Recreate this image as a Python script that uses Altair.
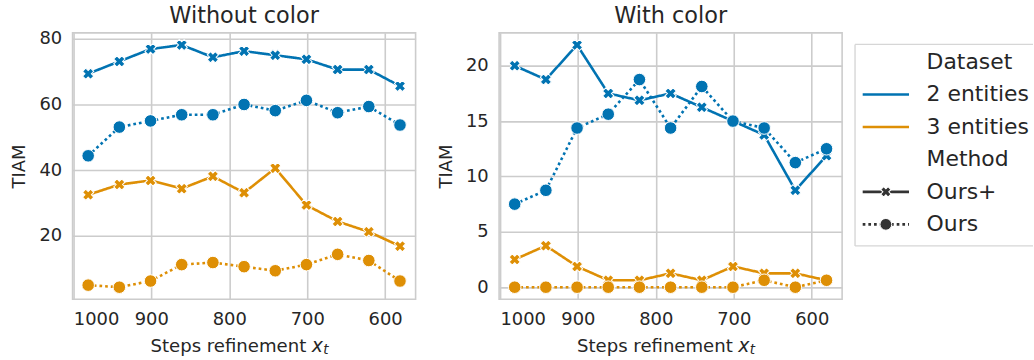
import altair as alt
import pandas as pd

# Denoising steps at which refinement is applied
steps = [981, 941, 901, 861, 821, 781, 741, 701, 661, 621, 581]
datasets = ["2 entities", "3 entities"]
methods = ["Ours+", "Ours"]

# TIAM scores, "Without color"
nocolor_2_plus = [69.375, 73.125, 76.875, 78.125, 74.375, 76.25, 75.0, 73.75, 70.625, 70.625, 65.625]
nocolor_2_base = [44.375, 53.125, 55.0, 56.875, 56.875, 60.0, 58.125, 61.25, 57.5, 59.375, 53.75]
nocolor_3_plus = [32.5, 35.625, 36.875, 34.375, 38.125, 33.125, 40.625, 29.375, 24.375, 21.25, 16.875]
nocolor_3_base = [5.0, 4.375, 6.25, 11.25, 11.875, 10.625, 9.375, 11.25, 14.375, 12.5, 6.25]

# TIAM scores, "With color"
color_2_plus = [20.0, 18.75, 21.875, 17.5, 16.875, 17.5, 16.25, 15.0, 13.75, 8.75, 11.875]
color_2_base = [7.5, 8.75, 14.375, 15.625, 18.75, 14.375, 18.125, 15.0, 14.375, 11.25, 12.5]
color_3_plus = [2.5, 3.75, 1.875, 0.625, 0.625, 1.25, 0.625, 1.875, 1.25, 1.25, 0.625]
color_3_base = [0.0, 0.0, 0.0, 0.0, 0.0, 0.0, 0.0, 0.0, 0.625, 0.0, 0.625]

palette = ["#0173b2", "#de8f05"]
TEXT = "#262626"
FONT = "DejaVu Sans"
W, H = 345, 268
TOP = 30.7    # room above each plot for its title
LEAD = 72     # room left of each plot for the y axis


def long_table(series):
    rows = []
    for (ds, meth), vals in series.items():
        for s, v in zip(steps, vals):
            rows.append({"step": s, "value": v, "dataset": ds, "method": meth})
    return pd.DataFrame(rows)


def y_domain(df):
    lo, hi = df["value"].min(), df["value"].max()
    pad = (hi - lo) * 0.05
    return [lo - pad, hi + pad]


one_row = pd.DataFrame({"k": [0]})


def extent_guide(lead):
    # invisible rule that fixes how far each panel reaches up and to the left
    return alt.Chart(one_row).mark_rule(opacity=0, strokeWidth=1).encode(
        x=alt.value(-lead), y=alt.value(-TOP), y2=alt.value(0))


color_scale = alt.Scale(domain=datasets, range=palette)
dash_scale = alt.Scale(domain=methods, range=[[1, 0], [2.7, 3.0]])


def panel(df, title, yticks):
    base = alt.Chart(df).encode(
        x=alt.X("step:Q",
                scale=alt.Scale(domain=[561, 1001], reverse=True, nice=False, zero=False),
                axis=alt.Axis(values=[600, 700, 800, 900, 1000], format="d", title=None)),
        y=alt.Y("value:Q",
                scale=alt.Scale(domain=y_domain(df), nice=False, zero=False),
                axis=alt.Axis(values=yticks, format="d", title="TIAM")),
        color=alt.Color("dataset:N", scale=color_scale, legend=None),
    )
    lines = base.mark_line(strokeWidth=2.6).encode(
        strokeDash=alt.StrokeDash("method:N", scale=dash_scale, legend=None),
        detail="method:N",
    )
    crosses = base.transform_filter(alt.datum.method == "Ours+").mark_point(
        shape="cross", angle=45, size=130, filled=True, opacity=1,
        stroke="white", strokeWidth=1)
    dots = base.transform_filter(alt.datum.method == "Ours").mark_point(
        shape="circle", size=160, filled=True, opacity=1,
        stroke="white", strokeWidth=1)

    lbl = alt.Chart(one_row)
    head = lbl.mark_text(align="center", baseline="alphabetic", font=FONT,
                         fontSize=22.5, color=TEXT).encode(
        x=alt.value(W / 2), y=alt.value(-10), text=alt.value(title))
    # x-axis title with an italic x and subscript t
    xt_main = lbl.mark_text(align="right", baseline="alphabetic", font=FONT,
                            fontSize=18.2, color=TEXT).encode(
        x=alt.value(235), y=alt.value(320.5), text=alt.value("Steps refinement"))
    xt_x = lbl.mark_text(align="left", baseline="alphabetic", font=FONT,
                         fontSize=19, fontStyle="italic", color=TEXT).encode(
        x=alt.value(240.5), y=alt.value(320.5), text=alt.value("x"))
    xt_t = lbl.mark_text(align="left", baseline="alphabetic", font=FONT,
                         fontSize=13.5, fontStyle="italic", color=TEXT).encode(
        x=alt.value(252), y=alt.value(323.5), text=alt.value("t"))

    return alt.layer(extent_guide(LEAD), lines, crosses, dots, head,
                     xt_main, xt_x, xt_t).properties(width=W, height=H)


left_df = long_table({
    ("2 entities", "Ours+"): nocolor_2_plus,
    ("2 entities", "Ours"): nocolor_2_base,
    ("3 entities", "Ours+"): nocolor_3_plus,
    ("3 entities", "Ours"): nocolor_3_base,
})
right_df = long_table({
    ("2 entities", "Ours+"): color_2_plus,
    ("2 entities", "Ours"): color_2_base,
    ("3 entities", "Ours+"): color_3_plus,
    ("3 entities", "Ours"): color_3_base,
})

left = panel(left_df, "Without color", [20, 40, 60, 80])
right = panel(right_df, "With color", [0, 5, 10, 15, 20])

# Seaborn-style combined legend
LW = 179
legend_rows = ["Dataset"] + datasets + ["Method"] + methods
leg_df = pd.DataFrame({"label": legend_rows, "row": list(range(len(legend_rows)))})
leg_df["dataset"] = [r if r in datasets else "" for r in legend_rows]
leg_df["method"] = [r if r in methods else "" for r in legend_rows]

row_y = alt.Y("row:Q", scale=alt.Scale(domain=[0, 5], range=[29.3, 192.6]), axis=None)
lbase = alt.Chart(leg_df).encode(y=row_y)

leg_text = lbase.mark_text(align="left", baseline="middle", font=FONT,
                           fontSize=22, color=TEXT).encode(
    x=alt.value(72), text="label:N")
leg_ds = lbase.transform_filter(alt.datum.dataset != "").mark_rule(strokeWidth=2.6).encode(
    x=alt.value(7.7), x2=alt.value(54.3),
    color=alt.Color("dataset:N", scale=color_scale, legend=None))
leg_meth = lbase.transform_filter(alt.datum.method != "").mark_rule(
    strokeWidth=2.6, color="#333333").encode(
    x=alt.value(7.7), x2=alt.value(54.3),
    strokeDash=alt.StrokeDash("method:N", scale=dash_scale, legend=None))
leg_cross = lbase.transform_filter(alt.datum.method == "Ours+").mark_point(
    shape="cross", angle=45, size=110, filled=True, opacity=1, color="#333333",
    stroke="white", strokeWidth=1).encode(x=alt.value(31))
leg_dot = lbase.transform_filter(alt.datum.method == "Ours").mark_point(
    shape="circle", size=140, filled=True, opacity=1, color="#333333",
    stroke="white", strokeWidth=1).encode(x=alt.value(31))

frame = alt.Chart(one_row)
box_col = "#d6d6d6"
box_top = frame.mark_rule(color=box_col, strokeWidth=1.4).encode(
    x=alt.value(0), x2=alt.value(LW), y=alt.value(11.6))
box_bottom = frame.mark_rule(color=box_col, strokeWidth=1.4).encode(
    x=alt.value(0), x2=alt.value(LW), y=alt.value(214.3))
box_left = frame.mark_rule(color=box_col, strokeWidth=1.4).encode(
    x=alt.value(0), y=alt.value(11.6), y2=alt.value(214.3))

legend = alt.layer(extent_guide(0), box_top, box_bottom, box_left, leg_ds, leg_meth,
                   leg_cross, leg_dot, leg_text).properties(
    width=LW, height=H, view=alt.ViewBackground(strokeOpacity=0))

chart = alt.hconcat(
    alt.hconcat(left, right, spacing=10),
    legend,
    spacing=11,
).properties(
    padding={"left": 0, "top": 0, "right": 0, "bottom": 0},
    background="white",
).configure_view(
    stroke="#cccccc", strokeWidth=1.6,
).configure_axis(
    grid=True, gridColor="#cccccc", gridWidth=1.6, domain=False, ticks=False,
    labelFont=FONT, labelFontSize=18, labelColor=TEXT, labelPadding=11,
    titleFont=FONT, titleFontSize=18, titleColor=TEXT, titleFontWeight="normal",
    titlePadding=10,
)

chart.save("out.html", embed_options={"renderer": "svg", "actions": False})
